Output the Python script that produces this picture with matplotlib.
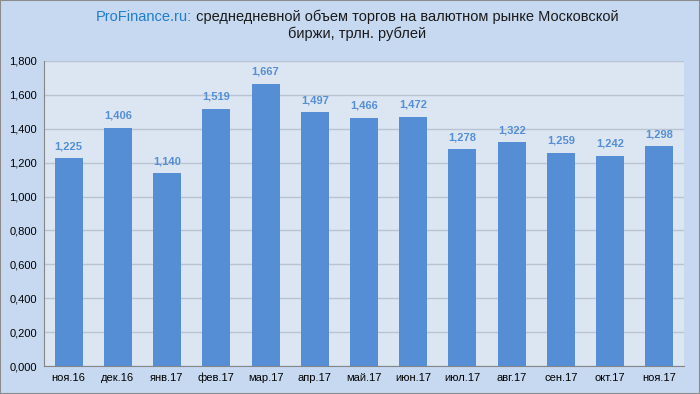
import matplotlib.pyplot as plt
import matplotlib.patches as mpatches

months = ['ноя.16', 'дек.16', 'янв.17', 'фев.17', 'мар.17', 'апр.17', 'май.17',
          'июн.17', 'июл.17', 'авг.17', 'сен.17', 'окт.17', 'ноя.17']
volumes = [1.225, 1.406, 1.140, 1.519, 1.667, 1.497, 1.466,
           1.472, 1.278, 1.322, 1.259, 1.242, 1.298]
yticks = [0, 0.2, 0.4, 0.6, 0.8, 1.0, 1.2, 1.4, 1.6, 1.8]

plt.rcParams['font.family'] = ['Liberation Sans', 'DejaVu Sans']

fig = plt.figure(figsize=(7, 3.94), dpi=100, facecolor='#C6D9F1')
fig.patches.append(mpatches.Rectangle((0, 0), 1, 1, transform=fig.transFigure,
                                      fill=False, edgecolor='#8C8C8C', lw=1.5))
ax = fig.add_axes([44/700, 28/394, 640/700, 305/394])
ax.set_facecolor('#DCE6F2')

x = range(len(months))
ax.bar(x, volumes, width=0.57, color='#558ED5', zorder=3)
for i, v in enumerate(volumes):
    ax.text(i, v + 0.04, f'{v:.3f}'.replace('.', ','), ha='center', va='bottom',
            fontsize=8, fontweight='bold', color='#558ED5')

ax.set_xlim(-0.5, len(months) - 0.5)
ax.set_ylim(0, 1.8)
ax.set_yticks(yticks)
ax.set_yticklabels([f'{t:.3f}'.replace('.', ',') for t in yticks], fontsize=8)
ax.set_xticks(list(x))
ax.set_xticklabels(months, fontsize=8)
ax.tick_params(axis='both', length=0, pad=5)
ax.grid(axis='y', color='#B9C4D2', lw=1, zorder=0)
for s in ['top', 'right']:
    ax.spines[s].set_visible(False)
for s in ['left', 'bottom']:
    ax.spines[s].set_color('#868686')

# title: blue site name followed by dark text, first line centred as a whole
part1 = 'ProFinance.ru:'
part2 = ' среднедневной объем торгов на валютном рынке Московской'
t1 = fig.text(0, 0.957, part1, color='#1F7DC9', fontsize=10.5, ha='left', va='center')
t2 = fig.text(0, 0.957, part2, color='#1A1A1A', fontsize=10.5, ha='left', va='center')
r = fig.canvas.get_renderer()
w1 = t1.get_window_extent(r).width
w2 = t2.get_window_extent(r).width
x0 = (714 - w1 - w2) / 2
t1.set_x(x0 / 700)
t2.set_x((x0 + w1) / 700)
fig.text(357/700, 0.914, 'биржи, трлн. рублей', fontsize=10.5, ha='center', va='center', color='#1A1A1A')

fig.savefig('out.png', dpi=100, facecolor=fig.get_facecolor())
